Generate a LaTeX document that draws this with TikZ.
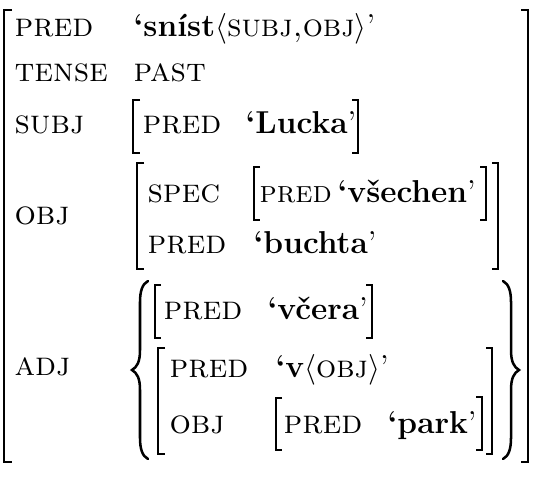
\documentclass[tikz,border=0pt]{standalone}
\usetikzlibrary{positioning}
\tikzset{
  attr/.style={anchor=base west, inner sep=0pt, font=\fontsize{12}{14}\selectfont\scshape},
  fval/.style={anchor=base west, inner sep=0pt},
  avmbr/.style={line width=0.55pt},
  avmbrace/.style={line width=0.9pt, line cap=round},
}
\begin{document}
\begin{tikzpicture}[x=0.357pt, y=-0.357pt, font=\fontsize{11.3}{13.5}\selectfont]
\useasboundingbox (0,0) rectangle (534,477);
% outer f-structure
\node[attr] (pred) at (14,36) {pred};
\node[fval] (predval) at (133,36) {\textbf{‘sníst}$\langle$\textsc{subj,obj}$\rangle$’};
\node[attr] (tense) at (14,81) {tense};
\node[attr] (tenseval) at (133,81) {past};
\node[attr] (subj) at (14,133) {subj};
\node[attr] (subjpred) at (142,133) {pred};
\node[fval] (subjval) at (245,133) {\textbf{‘Lucka}’};
\node[attr] (obj) at (14,224) {obj};
\node[attr] (objspec) at (147,202) {spec};
\node[attr, font=\fontsize{11}{13}\selectfont\scshape] (specpred) at (259,202) {pred};
\node[fval] (specval) at (337,202) {\textbf{‘všechen}’};
\node[attr] (objpred) at (147,253) {pred};
\node[fval] (objval) at (253,253) {\textbf{‘buchta}’};
\node[attr] (adj) at (14,375) {adj};
% adjunct set
\node[attr] (adjpredA) at (163,319) {pred};
\node[fval] (adjvalA) at (267,319) {\textbf{‘včera}’};
\node[attr] (adjpredB) at (169,377) {pred};
\node[fval] (adjvalB) at (275,377) {\textbf{‘v}$\langle$\textsc{obj}$\rangle$’};
\node[attr] (adjobj) at (169,433) {obj};
\node[attr] (parkpred) at (283,433) {pred};
\node[fval] (parkval) at (387,433) {\textbf{‘park}’};
% brackets
\foreach \bx/\sx/\ta/\tb in {4/12/10/462, 133/140/100/153, 137/144/163/269,
  254/260/167/220, 155/161/285/338, 158/165/348/454, 276/282/398/450}
  \draw[avmbr] (\sx,\ta) -- (\bx,\ta) -- (\bx,\tb) -- (\sx,\tb);
\foreach \bx/\sx/\ta/\tb in {528/521/10/462, 358/352/100/153, 498/492/163/269,
  486/480/167/220, 372/366/285/338, 492/486/348/454, 482/476/397/450}
  \draw[avmbr] (\sx,\ta) -- (\bx,\ta) -- (\bx,\tb) -- (\sx,\tb);
% braces
\draw[avmbrace] (148,281) .. controls (142,284) and (140,292) .. (140,302)
  -- (140,350) .. controls (140,362) and (137,367) .. (132,370)
  .. controls (137,373) and (140,378) .. (140,390)
  -- (140,438) .. controls (140,448) and (142,456) .. (148,459);
\draw[avmbrace] (503,281) .. controls (509,284) and (511,292) .. (511,302)
  -- (511,350) .. controls (511,362) and (514,367) .. (519,370)
  .. controls (514,373) and (511,378) .. (511,390)
  -- (511,438) .. controls (511,448) and (509,456) .. (503,459);
\end{tikzpicture}
\end{document}
